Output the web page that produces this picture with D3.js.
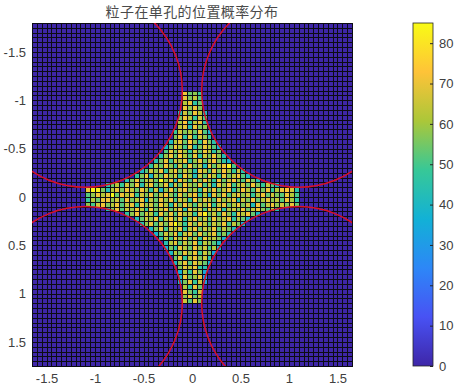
<!DOCTYPE html>
<html>
<head>
<meta charset="utf-8">
<script src="https://cdn.jsdelivr.net/npm/d3@7"></script>
<style>
  html, body { margin: 0; padding: 0; background: #fff; }
  svg { display: block; }
  text { font-family: "Liberation Sans", Arial, sans-serif; }
</style>
</head>
<body>
<div id="chart"></div>
<script>
'use strict';

const titleText = '粒子在单孔的位置概率分布';
const xTicks = [-1.5, -1, -0.5, 0, 0.5, 1, 1.5];
const yTicks = [-1.5, -1, -0.5, 0, 0.5, 1, 1.5];
const barTicks = [0, 10, 20, 30, 40, 50, 60, 70, 80];
const xDomain = [-1.65, 1.65];
const yDomain = [-1.8, 1.75];
const colorMax = 85;
const cellSize = 0.05;

// hole circles, radius 1
const holeCentres = [[-1.1, -1.1], [1.1, -1.1], [-1.1, 1.1], [1.1, 1.1]];
const holeRadius = 1;

const parula = ['#3e26a8', '#4852f4', '#2d87f7', '#12b1d6', '#37c897', '#abc739', '#fec338', '#f9fb15'];

// counts per row, first row starts at y = -1.1, every row is centred on x = 0
const firstRowY = -1.1;
const starRows = [
  [71,54,58,48],
  [70,56,64,51],
  [62,70,46,54],
  [71,58,70,56],
  [42,66,54,71,62,40],
  [56,71,62,48,66,51],
  [59,73,46,64,70,45],
  [62,70,44,71,56,58],
  [48,66,56,62,54,71,51,38],
  [56,71,46,70,48,66,59,46],
  [40,62,70,54,73,58,48,71,56,44],
  [38,54,71,62,50,71,44,56,70,61,52,36],
  [51,70,56,71,60,48,66,54,71,62,46,56],
  [44,59,71,54,73,62,52,70,46,66,56,71,58,42],
  [44,56,70,50,66,62,71,48,59,71,54,64,72,56,46,38],
  [46,62,54,71,58,48,66,52,71,56,64,42,70,54,62,71,82,50],
  [40,52,66,58,71,48,62,71,54,66,58,44,71,64,52,70,56,73,60,48,66,44],
  [46,56,70,40,62,54,71,58,66,48,71,60,42,66,54,71,62,48,70,56,64,71,52,40],
  [44,56,71,51,62,66,54,84,58,71,46,71,62,52,70,56,72,60,48,71,54,66,73,58,51,70,56,42],
  [44,54,62,48,66,56,71,44,62,71,52,58,70,46,66,54,71,60,56,71,51,64,44,70,58,72,50,62,66,54,71,56,48,64,52,40],
  [70,83,82,56,42,62,70,56,71,64,54,71,60,48,66,40,58,71,52,66,71,56,62,48,70,56,71,54,64,71,46,58,72,62,51,70,56,71,48,62,70,73,66,44],
  [52,58,71,62,70,84,54,71,62,71,48,66,56,71,54,64,72,58,50,70,56,66,71,48,62,40,70,56,71,52,64,71,58,66,48,62,71,54,66,56,52,70,62,50],
  [48,62,54,70,71,58,66,52,71,56,62,71,42,64,54,70,58,71,51,66,62,48,73,56,70,62,52,71,58,64,71,46,66,56,71,54,62,70,58,64,52,71,60,46],
  [58,50,66,71,56,62,71,52,64,70,48,71,58,66,54,71,62,46,70,56,71,60,51,66,58,73,48,64,70,54,62,71,56,66,42,71,52,64,71,58,66,56,70,54],
  [40,56,70,52,66,58,71,62,48,71,56,64,72,54,62,70,46,71,58,66,52,70,60,71,48,62,66,56,71,54,64,71,58,51,62,42],
  [46,58,71,54,66,62,48,71,56,70,52,71,60,64,48,71,82,56,66,52,71,58,46,70,62,71,54,40],
  [42,54,66,58,71,50,64,71,56,70,48,62,71,56,66,52,71,58,64,71,46,62,54,38],
  [44,58,70,52,66,56,71,84,60,48,70,56,71,62,52,66,58,71,50,64,56,36],
  [40,56,70,50,66,60,71,48,62,71,54,66,58,71,52,64,56,42],
  [38,52,66,58,71,48,64,70,54,71,56,62,70,50,58,44],
  [42,62,50,70,58,71,54,66,48,71,60,64,56,38],
  [44,62,70,52,66,56,71,48,64,58,52,40],
  [36,56,48,70,62,54,71,58,66,50,62,38],
  [40,62,54,70,58,71,50,66,56,34],
  [54,70,48,62,71,56,66,44],
  [40,58,71,52,70,60,54,36],
  [56,70,62,71,48,44],
  [36,62,48,70,56,34],
  [42,71,54,60,70,30],
  [38,56,70,48,66,32],
  [62,48,71,54],
  [70,56,48,66],
  [58,71,54,62],
  [66,52,70,56]
];

const width = 458;
const height = 392;
const plot = { left: 32, right: 352, top: 23, bottom: 366 };
const bar = { left: 413, right: 433 };
const textColor = '#404040';

const svg = d3.select('#chart').append('svg')
  .attr('width', width)
  .attr('height', height);

const xScale = d3.scaleLinear().domain(xDomain).range([plot.left, plot.right]);
const yScale = d3.scaleLinear().domain(yDomain).range([plot.top, plot.bottom]);
const colorScale = d3.scaleLinear()
  .domain(parula.map((c, i) => i / (parula.length - 1) * colorMax))
  .range(parula)
  .interpolate(d3.interpolateRgb);
const barScale = d3.scaleLinear().domain([0, colorMax]).range([plot.bottom, plot.top]);

// whole grid is drawn, cells outside the star are just 0
const nCols = Math.round((xDomain[1] - xDomain[0]) / cellSize);
const nRows = Math.round((yDomain[1] - yDomain[0]) / cellSize);
const firstRow = Math.round((firstRowY - yDomain[0]) / cellSize);
const cells = [];
for (let r = 0; r < nRows; r++) {
  const values = starRows[r - firstRow] || [];
  const firstCol = nCols / 2 - values.length / 2;
  for (let c = 0; c < nCols; c++) {
    const v = values[c - firstCol];
    cells.push({ r: r, c: c, value: v === undefined ? 0 : v });
  }
}

const cellX = c => Math.round(xScale(xDomain[0] + c * cellSize));
const cellY = r => Math.round(yScale(yDomain[0] + r * cellSize));

// black backing shows through as the 1px cell edges
svg.append('rect')
  .attr('x', plot.left)
  .attr('y', plot.top)
  .attr('width', plot.right - plot.left + 1)
  .attr('height', plot.bottom - plot.top + 1)
  .attr('fill', '#0c0c14');

svg.append('g')
  .attr('shape-rendering', 'crispEdges')
  .selectAll('rect')
  .data(cells)
  .join('rect')
  .attr('x', d => cellX(d.c) + 1)
  .attr('y', d => cellY(d.r) + 1)
  .attr('width', d => cellX(d.c + 1) - cellX(d.c) - 1)
  .attr('height', d => cellY(d.r + 1) - cellY(d.r) - 1)
  .attr('fill', d => colorScale(d.value));

svg.append('clipPath').attr('id', 'plot-clip')
  .append('rect')
  .attr('x', plot.left)
  .attr('y', plot.top)
  .attr('width', plot.right - plot.left)
  .attr('height', plot.bottom - plot.top);

svg.append('g')
  .attr('clip-path', 'url(#plot-clip)')
  .selectAll('ellipse')
  .data(holeCentres)
  .join('ellipse')
  .attr('cx', d => xScale(d[0]))
  .attr('cy', d => yScale(d[1]))
  .attr('rx', xScale(holeRadius) - xScale(0))
  .attr('ry', yScale(holeRadius) - yScale(0))
  .attr('fill', 'none')
  .attr('stroke', '#d8102a')
  .attr('stroke-width', 1.5);

// Axes, tick marks are hidden by the grid so only labels are kept
const xAxis = d3.axisBottom(xScale).tickValues(xTicks).tickSize(0).tickPadding(8).tickFormat(d => String(d));
const yAxis = d3.axisLeft(yScale).tickValues(yTicks).tickSize(0).tickPadding(6).tickFormat(d => String(d));

const xG = svg.append('g').attr('transform', `translate(0, ${plot.bottom})`).call(xAxis);
const yG = svg.append('g').attr('transform', `translate(${plot.left}, 0)`).call(yAxis);
[xG, yG].forEach(g => {
  g.select('.domain').remove();
  g.selectAll('text')
    .attr('fill', textColor)
    .style('font-size', '13px')
    .style('font-family', '"Liberation Sans", Arial, sans-serif');
});

svg.append('text')
  .text(titleText)
  .attr('x', (plot.left + plot.right) / 2)
  .attr('y', 16.5)
  .attr('text-anchor', 'middle')
  .attr('fill', '#4a4a4a')
  .style('font-size', '14px')
  .style('letter-spacing', '0.4px')
  .style('font-family', '"Noto Sans CJK SC", sans-serif');

// Colorbar
const gradient = svg.append('defs').append('linearGradient')
  .attr('id', 'parula-gradient')
  .attr('x1', 0).attr('x2', 0).attr('y1', 1).attr('y2', 0);
gradient.selectAll('stop')
  .data(parula)
  .join('stop')
  .attr('offset', (d, i) => i / (parula.length - 1))
  .attr('stop-color', d => d);

svg.append('rect')
  .attr('x', bar.left)
  .attr('y', plot.top)
  .attr('width', bar.right - bar.left)
  .attr('height', plot.bottom - plot.top)
  .attr('fill', 'url(#parula-gradient)')
  .attr('stroke', '#262626')
  .attr('stroke-width', 0.8);

const barAxis = d3.axisRight(barScale).tickValues(barTicks).tickSize(-3).tickPadding(6);
const barG = svg.append('g').attr('transform', `translate(${bar.right}, 0)`).call(barAxis);
barG.select('.domain').remove();
barG.selectAll('line').attr('stroke', '#262626');
barG.selectAll('text')
  .attr('fill', textColor)
  .style('font-size', '13px')
  .style('font-family', '"Liberation Sans", Arial, sans-serif');
</script>
</body>
</html>
